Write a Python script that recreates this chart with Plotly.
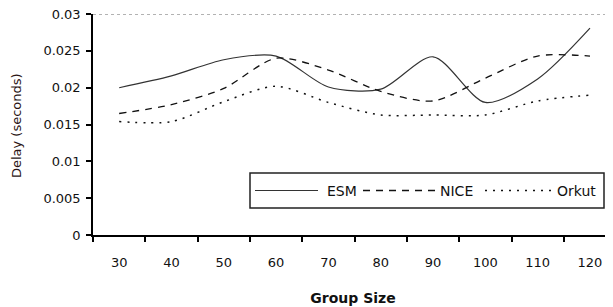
import plotly.graph_objects as go

group_sizes = ["30", "40", "50", "60", "70", "80", "90", "100", "110", "120"]
esm = [0.0200, 0.0216, 0.0238, 0.0243, 0.0201, 0.0198, 0.0242, 0.0180, 0.0212, 0.0281]
nice = [0.0165, 0.0177, 0.0199, 0.0240, 0.0224, 0.0195, 0.0182, 0.0213, 0.0243, 0.0243]
orkut = [0.0154, 0.0154, 0.0181, 0.0202, 0.0180, 0.0163, 0.0163, 0.0163, 0.0182, 0.0190]
y_ticks = [0, 0.005, 0.01, 0.015, 0.02, 0.025, 0.03]
y_tick_text = ["0", "0.005", "0.01", "0.015", "0.02", "0.025", "0.03"]

FONT = "DejaVu Sans, Verdana, sans-serif"
# the page body has an 8px margin; the figure is sized/offset to compensate
PAGE_OFF = 8

fig = go.Figure()
fig.add_trace(go.Scatter(x=group_sizes, y=esm, name="ESM", mode="lines",
                         line=dict(color="#333333", width=1.2, shape="spline", smoothing=0.8)))
fig.add_trace(go.Scatter(x=group_sizes, y=nice, name="NICE", mode="lines",
                         line=dict(color="#111111", width=1.3, shape="spline", smoothing=0.8, dash="7px,6px")))
fig.add_trace(go.Scatter(x=group_sizes, y=orkut, name="Orkut", mode="lines",
                         line=dict(color="#111111", width=1.5, shape="spline", smoothing=0.8, dash="2px,6px")))

fig.update_layout(
    width=613 - PAGE_OFF, height=307 - PAGE_OFF,
    margin=dict(l=93 - PAGE_OFF, r=0, t=14 - PAGE_OFF, b=72, pad=0),
    paper_bgcolor="white", plot_bgcolor="white",
    showlegend=False,
    font=dict(family=FONT, size=13, color="#111111"),
    xaxis=dict(type="category", tickson="boundaries", range=[-0.5, 9.44],
               automargin=False,
               showline=True, linecolor="black", linewidth=1.5,
               ticks="outside", ticklen=5, tickcolor="black", tickwidth=1.5,
               showgrid=False, zeroline=False, ticklabelstandoff=15,
               tickfont=dict(size=13),
               title=dict(text="<b>Group Size</b>", font=dict(size=14), standoff=24)),
    yaxis=dict(range=[0, 0.03001], tickvals=y_ticks, ticktext=y_tick_text,
               automargin=False, ticklabeloverflow="allow",
               showline=True, linecolor="black", linewidth=1.5,
               ticks="outside", ticklen=5, tickcolor="black", tickwidth=1.5,
               showgrid=False, zeroline=False, ticklabelstandoff=3,
               tickfont=dict(size=13)),
)

# top dotted border line at 0.03
fig.add_shape(type="line", xref="paper", yref="y", x0=0, x1=1, y0=0.03, y1=0.03,
              line=dict(color="#999999", width=1.5, dash="dot"))

# y-axis title
fig.add_annotation(text="Delay (seconds)", xref="paper", yref="paper",
                   x=(16 - 93) / 520, y=0.493, textangle=-90, showarrow=False,
                   font=dict(size=13, color="#2a1414"), xanchor="center", yanchor="middle")

# legend box (manual)
fig.add_shape(type="rect", xref="paper", yref="paper",
              x0=(250 - 93) / 520, x1=(604 - 93) / 520,
              y0=(235 - 208) / 221, y1=(235 - 173) / 221,
              line=dict(color="#222222", width=1.5), fillcolor="white")
ly = (235 - 190.5) / 221
legend_items = [
    ("ESM", 255, 318, 325, None, 1.2, "#333333"),
    ("NICE", 363, 437, 438, "7px,6px", 1.3, "#111111"),
    ("Orkut", 485, 555, 555, "2px,6px", 1.5, "#111111"),
]
for name, a, b, t, dash, w, c in legend_items:
    ln = dict(color=c, width=w)
    if dash:
        ln["dash"] = dash
    fig.add_shape(type="line", xref="paper", yref="paper",
                  x0=(a - 93) / 520, x1=(b - 93) / 520, y0=ly, y1=ly, line=ln)
    fig.add_annotation(text=name, xref="paper", yref="paper", x=(t - 93) / 520, y=ly,
                       xanchor="left", yanchor="middle", showarrow=False,
                       font=dict(size=14, color="#111111"))

fig.write_html("out.html")
